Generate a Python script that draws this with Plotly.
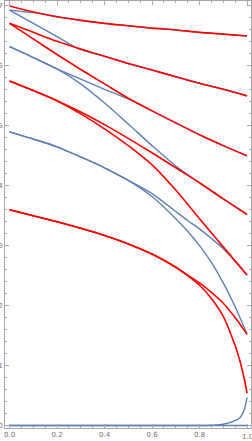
import plotly.graph_objects as go

# ---- data ----
X = [0, 0.1, 0.2, 0.3, 0.4, 0.5, 0.6, 0.7, 0.8, 0.9, 1.0]

# red family
R1 = [7.00, 6.90, 6.82, 6.76, 6.71, 6.67, 6.63, 6.60, 6.56, 6.53, 6.50]
R2 = [6.71, 6.56, 6.41, 6.28, 6.16, 6.04, 5.93, 5.82, 5.71, 5.61, 5.50]
R3 = [6.71, 6.45, 6.19, 5.94, 5.70, 5.46, 5.25, 5.05, 4.85, 4.67, 4.50]
R4 = [5.75, 5.59, 5.42, 5.23, 5.02, 4.79, 4.55, 4.30, 4.05, 3.78, 3.52]
R5 = [5.75, 5.59, 5.42, 5.20, 4.95, 4.67, 4.35, 3.93, 3.45, 2.98, 2.51]
X6 = [0, 0.1, 0.2, 0.3, 0.4, 0.5, 0.6, 0.7, 0.75, 0.8, 0.85, 0.9, 0.95, 1.0]
R6 = [3.60, 3.50, 3.40, 3.29, 3.17, 3.03, 2.86, 2.64, 2.51, 2.38, 2.22, 2.04, 1.80, 1.52]
X7 = [0, 0.1, 0.2, 0.3, 0.4, 0.5, 0.6, 0.7, 0.75, 0.8, 0.85, 0.9, 0.95, 0.97, 0.99, 1.0]
R7 = [3.60, 3.50, 3.40, 3.29, 3.17, 3.03, 2.86, 2.64, 2.50, 2.34, 2.12, 1.82, 1.33, 1.08, 0.75, 0.54]

# blue family
XT1 = [0, 0.05, 0.1, 0.15, 0.2, 0.3, 0.4, 0.5, 0.6, 0.7, 0.8, 0.9, 1.0]
BT1 = [6.93, 6.91, 6.89, 6.86, 6.82, 6.76, 6.71, 6.67, 6.63, 6.60, 6.56, 6.53, 6.50]
XT2 = [0, 0.1, 0.2, 0.29, 0.4, 0.5, 0.6, 0.7, 0.8, 0.9, 1.0]
BT2 = [6.93, 6.71, 6.49, 6.29, 6.16, 6.04, 5.93, 5.82, 5.71, 5.61, 5.50]
B2A = [6.32, 6.14, 5.95, 5.78, 5.61, 5.45, 5.25, 5.05, 4.85, 4.67, 4.50]
B2B = [6.32, 6.14, 5.95, 5.70, 5.38, 5.03, 4.67, 4.33, 4.05, 3.78, 3.52]
XL = [0, 0.1, 0.2, 0.3, 0.4, 0.5, 0.6, 0.7, 0.75, 0.8, 0.85, 0.9, 0.95, 1.0]
BL1 = [4.90, 4.78, 4.65, 4.48, 4.30, 4.09, 3.87, 3.57, 3.42, 3.28, 3.12, 2.95, 2.74, 2.51]
BL2 = [4.90, 4.78, 4.65, 4.48, 4.30, 4.09, 3.82, 3.45, 3.24, 3.00, 2.72, 2.38, 1.98, 1.52]
X0 = [0, 1.0]
B0A = [0.0, 0.0]
X0B = [0, 0.8, 0.85, 0.9, 0.95, 0.97, 0.98, 0.99, 1.0]
B0B = [0.0, 0.0, 0.005, 0.02, 0.08, 0.13, 0.19, 0.28, 0.47]

XTICKS = [0, 0.2, 0.4, 0.6, 0.8, 1.0]
XTICKTEXT = ["0.0", "0.2", "0.4", "0.6", "0.8", "1.0"]
YTICKS = [0, 1, 2, 3, 4, 5, 6, 7]

BLUE = "#5E81B5"
RED = "#FF0000"

fig = go.Figure()
blues = [(XT1, BT1), (XT2, BT2), (X, B2A), (X, B2B), (XL, BL1), (XL, BL2),
         (X0, B0A), (X0B, B0B)]
reds = [(X, R1), (X, R2), (X, R3), (X, R4), (X, R5), (X6, R6), (X7, R7)]
for xs, ys in blues:
    fig.add_trace(go.Scatter(x=xs, y=ys, mode="lines",
                             line=dict(color=BLUE, width=1.4, shape="spline", smoothing=0.8),
                             hoverinfo="skip"))
for xs, ys in reds:
    fig.add_trace(go.Scatter(x=xs, y=ys, mode="lines",
                             line=dict(color=RED, width=1.6, shape="spline", smoothing=0.8),
                             hoverinfo="skip"))

FRAME = "#a8a8a8"
TICKFONT = dict(family="DejaVu Sans", size=7, color="#707070")

# the last x tick label sits right at the page edge; draw it as an annotation
axis_text = XTICKTEXT[:-1] + [""]
fig.add_annotation(x=XTICKS[-1], y=0, xref="x", yref="paper", yanchor="top",
                   xanchor="center", yshift=-3, text=XTICKTEXT[-1], showarrow=False,
                   font=TICKFONT)

fig.update_layout(
    width=252, height=441,
    margin=dict(l=5, r=1, t=1, b=13, autoexpand=False),
    paper_bgcolor="white", plot_bgcolor="white",
    showlegend=False,
    xaxis=dict(range=[-0.019, 1.0168], tickvals=XTICKS, ticktext=axis_text,
               ticks="inside", ticklen=4, tickcolor=FRAME, tickwidth=1,
               minor=dict(dtick=0.05, ticks="inside", ticklen=2, tickcolor=FRAME),
               showline=True, linecolor=FRAME, linewidth=1, mirror="ticks",
               showgrid=False, zeroline=False, tickfont=TICKFONT,
               ticklabeloverflow="allow"),
    yaxis=dict(range=[-0.042, 7.083], tickvals=YTICKS,
               ticks="inside", ticklen=4, tickcolor=FRAME, tickwidth=1,
               minor=dict(dtick=0.2, ticks="inside", ticklen=2, tickcolor=FRAME),
               showline=True, linecolor=FRAME, linewidth=1, mirror="ticks",
               showgrid=False, zeroline=False, tickfont=TICKFONT,
               ticklabeloverflow="allow"),
)
fig.write_html("out.html", config={"displayModeBar": False},
               post_script="document.body.style.margin='0px';document.body.style.padding='0px';")
